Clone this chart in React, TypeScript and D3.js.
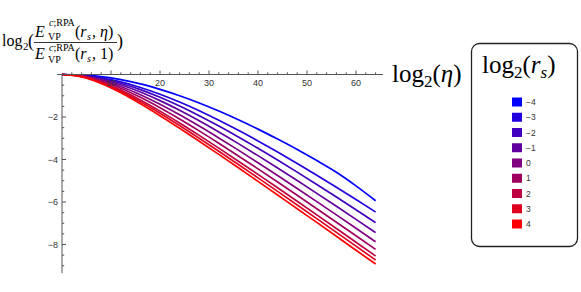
import React from "react";
import * as d3 from "d3";

const etas = [0, 4, 8, 12, 16, 20, 24, 28, 32, 36, 40, 44, 48, 52, 56, 60, 64];
const rsLabels = ["−4", "−3", "−2", "−1", "0", "1", "2", "3", "4"];
const sM4 = [0, -0.02, -0.1, -0.24, -0.44, -0.7, -1.0, -1.34, -1.72, -2.13, -2.57, -3.04, -3.53, -4.05, -4.6, -5.24, -5.94];
const sM3 = [0, -0.04, -0.158, -0.35, -0.609, -0.926, -1.294, -1.704, -2.15, -2.626, -3.127, -3.649, -4.188, -4.742, -5.308, -5.885, -6.471];
const sM2 = [0, -0.047, -0.187, -0.412, -0.71, -1.071, -1.483, -1.936, -2.423, -2.937, -3.473, -4.026, -4.595, -5.175, -5.766, -6.364, -6.97];
const sM1 = [0, -0.057, -0.222, -0.483, -0.825, -1.23, -1.686, -2.18, -2.705, -3.252, -3.818, -4.399, -4.991, -5.593, -6.203, -6.819, -7.441];
const s0 = [0, -0.068, -0.262, -0.564, -0.951, -1.401, -1.897, -2.428, -2.985, -3.56, -4.151, -4.753, -5.364, -5.983, -6.608, -7.237, -7.87];
const s1 = [0, -0.079, -0.305, -0.647, -1.075, -1.564, -2.094, -2.654, -3.236, -3.833, -4.442, -5.06, -5.684, -6.315, -6.95, -7.588, -8.23];
const s2 = [0, -0.092, -0.351, -0.734, -1.201, -1.723, -2.282, -2.865, -3.466, -4.079, -4.702, -5.332, -5.966, -6.605, -7.248, -7.893, -8.541];
const s3 = [0, -0.102, -0.385, -0.794, -1.286, -1.828, -2.404, -3.0, -3.612, -4.234, -4.864, -5.5, -6.14, -6.784, -7.43, -8.079, -8.73];
const s4 = [0, -0.115, -0.425, -0.863, -1.38, -1.94, -2.53, -3.14, -3.76, -4.39, -5.03, -5.67, -6.32, -6.96, -7.61, -8.27, -8.92];
const series = [sM4, sM3, sM2, sM1, s0, s1, s2, s3, s4];
const xTickLabels = [10, 20, 30, 40, 50, 60];
const yTickLabels = [-2, -4, -6, -8];

const serif = "'Liberation Serif', 'DejaVu Serif', serif";
const sans = "'Liberation Sans', Arial, sans-serif";

export default function App() {
  const x = d3.scaleLinear().domain([0, 64]).range([62, 375.6]);
  const y = d3.scaleLinear().domain([0, -2]).range([74.5, 117]);
  const color = (i: number) => d3.interpolateRgb("#0000ff", "#ff0000")(i / 8);
  const line = d3
    .line<number>()
    .x((_, i) => x(etas[i]))
    .y((d) => y(d))
    .curve(d3.curveMonotoneX);

  const xMinor = d3.range(2, 65, 2).filter((v) => v % 10 !== 0);
  const yMinor = d3.range(-0.5, -9.3, -0.5).filter((v) => Math.abs(v) % 2 !== 0);
  const axisColor = "#555";
  const y0 = y(0);
  const x0 = x(0);

  return (
    <svg
      width={581}
      height={292}
      style={{ position: "absolute", left: 0, top: 0, background: "#fff" }}
    >
      {/* curves */}
      {series.map((s, i) => (
        <path key={i} d={line(s) || ""} fill="none" stroke={color(i)} strokeWidth={1.7} />
      ))}
      {/* axes */}
      <line x1={x(-1)} x2={x(65.5)} y1={y0} y2={y0} stroke={axisColor} strokeWidth={1} />
      <line x1={x0} x2={x0} y1={y0} y2={y(-9.35)} stroke={axisColor} strokeWidth={1} />
      {xTickLabels.map((v) => (
        <g key={v}>
          <line x1={x(v)} x2={x(v)} y1={y0} y2={y0 - 4} stroke={axisColor} />
          <text x={x(v)} y={86} fontSize={9} fontFamily={sans} fill="#333" textAnchor="middle">
            {v}
          </text>
        </g>
      ))}
      {xMinor.map((v) => (
        <line key={v} x1={x(v)} x2={x(v)} y1={y0} y2={y0 - 2.2} stroke={axisColor} />
      ))}
      {yTickLabels.map((v) => (
        <g key={v}>
          <line x1={x0} x2={x0 + 4} y1={y(v)} y2={y(v)} stroke={axisColor} />
          <text x={58} y={y(v) + 3.2} fontSize={9} fontFamily={sans} fill="#333" textAnchor="end">
            {"−" + Math.abs(v)}
          </text>
        </g>
      ))}
      {yMinor.map((v) => (
        <line key={v} x1={x0} x2={x0 + 2.2} y1={y(v)} y2={y(v)} stroke={axisColor} />
      ))}

      {/* y label */}
      <g fontFamily={serif} fill="#000">
        <text x={2} y={46} fontSize={16}>log</text>
        <text x={23} y={50} fontSize={11}>2</text>
        <text x={28} y={47} fontSize={18}>(</text>
        {/* numerator */}
        <text x={35} y={37} fontSize={16} fontStyle="italic">E</text>
        <text x={49} y={26} fontSize={10}>
          <tspan fontStyle="italic">c</tspan>;RPA
        </text>
        <text x={48} y={40} fontSize={10}>VP</text>
        <text x={75} y={37} fontSize={16}>
          (<tspan fontStyle="italic">r</tspan>
        </text>
        <text x={87} y={40} fontSize={10} fontStyle="italic">s</text>
        <text x={92} y={37} fontSize={16}>
          , <tspan fontStyle="italic">η</tspan>)
        </text>
        <line x1={34} x2={117} y1={42.5} y2={42.5} stroke="#000" strokeWidth={0.8} />
        {/* denominator */}
        <text x={35} y={59} fontSize={16} fontStyle="italic">E</text>
        <text x={49} y={51} fontSize={10}>
          <tspan fontStyle="italic">c</tspan>;RPA
        </text>
        <text x={48} y={63} fontSize={10}>VP</text>
        <text x={75} y={59} fontSize={16}>
          (<tspan fontStyle="italic">r</tspan>
        </text>
        <text x={87} y={62} fontSize={10} fontStyle="italic">s</text>
        <text x={92} y={59} fontSize={16}>, 1)</text>
        <text x={117} y={47} fontSize={18}>)</text>
      </g>

      {/* x label */}
      <g fontFamily={serif} fill="#000">
        <text x={392} y={82} fontSize={25}>
          log<tspan fontSize={17} dy={5}>2</tspan>
          <tspan dy={-5}>(</tspan>
          <tspan fontStyle="italic">η</tspan>)
        </text>
      </g>

      {/* legend */}
      <rect x={471.5} y={43.5} width={106} height={203} rx={8} fill="#fff" stroke="#222" strokeWidth={1.3} />
      <text x={482} y={73} fontSize={25} fontFamily={serif}>
        log<tspan fontSize={17} dy={5}>2</tspan>
        <tspan dy={-5}>(</tspan>
        <tspan fontStyle="italic">r</tspan>
        <tspan fontStyle="italic" fontSize={17} dy={5}>s</tspan>
        <tspan dy={-5}>)</tspan>
      </text>
      {rsLabels.map((lab, i) => {
        const cy = 102 + i * 15.25;
        return (
          <g key={lab}>
            <rect x={512} y={cy - 4.5} width={10} height={9} fill={color(i)} />
            <text x={526} y={cy + 3} fontSize={8.5} fontFamily={sans} fill="#333">
              {lab}
            </text>
          </g>
        );
      })}
    </svg>
  );
}
